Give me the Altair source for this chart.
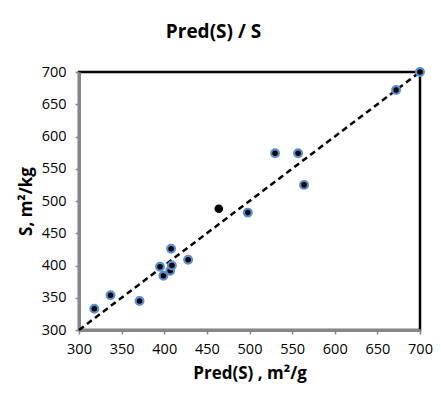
import altair as alt
import pandas as pd

pred_s = [318, 337, 371, 408, 395, 399, 407, 409, 428, 498, 530, 557, 564, 672, 700]
s_vals = [333, 354, 345, 426, 398, 384, 392, 400, 409, 482, 574, 574, 525, 672, 700]
outlier_pred = [464]
outlier_s = [488]
line_x = [300, 700]
line_y = [300, 700]
ticks = [300, 350, 400, 450, 500, 550, 600, 650, 700]

df = pd.DataFrame({"pred": pred_s, "s": s_vals})
df_out = pd.DataFrame({"pred": outlier_pred, "s": outlier_s})
df_line = pd.DataFrame({"pred": line_x, "s": line_y})

FONT = "Open Sans"
xs = alt.Scale(domain=[300, 700], nice=False, zero=False)
ys = alt.Scale(domain=[300, 700], nice=False, zero=False)

axis_common = dict(
    values=ticks, grid=False, domainColor="#868686", domainWidth=3,
    tickColor="#868686", tickWidth=1.5, tickSize=4,
    labelFont=FONT, labelFontSize=14.5, labelColor="#000000",
    labelFlush=False, labelOverlap=False,
    titleFont=FONT, titleFontSize=17, titleFontWeight="bold", titleColor="#000000",
)

xenc = alt.X("pred:Q", scale=xs, axis=alt.Axis(title="Pred(S) , m²/g", labelPadding=8, titlePadding=10, **axis_common))
yenc = alt.Y("s:Q", scale=ys, axis=alt.Axis(title="S, m²/kg", labelPadding=9, titlePadding=6, **axis_common))

line = alt.Chart(df_line).mark_line(color="black", strokeDash=[6, 4], strokeWidth=2.5).encode(x=xenc, y=yenc)
pts = alt.Chart(df).mark_point(filled=True, fill="black", stroke="#5b8fd0", strokeWidth=2.2, size=60, opacity=1).encode(x=xenc, y=yenc)
out = alt.Chart(df_out).mark_point(filled=True, fill="black", color="black", size=75, opacity=1).encode(x=xenc, y=yenc)

chart = alt.layer(line, pts, out).properties(
    width=341, height=258,
    title=alt.TitleParams("Pred(S) / S", font=FONT, fontSize=19, fontWeight="bold", anchor="middle", dx=-36, offset=22),
    autosize=alt.AutoSizeParams(type="none"),
    padding={"left": 71, "top": 64, "right": 13, "bottom": 60},
).configure(background="white").configure_view(stroke="black", strokeWidth=2.5)

chart.save("out.html", embed_options={"renderer": "svg", "actions": False})
